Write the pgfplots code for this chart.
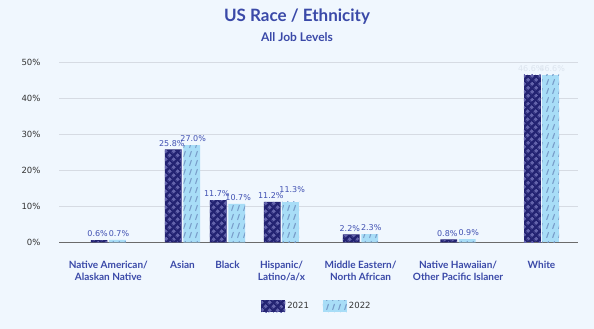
\documentclass[border=0pt]{standalone}
\usepackage{pgfplots}
\pgfplotsset{compat=1.18}
\usetikzlibrary{patterns.meta}
\usepackage{fontspec}
\setmainfont{Lato}
\newfontfamily\dejavu{DejaVu Sans}
\definecolor{bg}{HTML}{F0F7FE}
\definecolor{titleblue}{HTML}{3A49A8}
\definecolor{labelblue}{HTML}{4050B2}
\definecolor{navy}{HTML}{232372}
\definecolor{navypat}{HTML}{6464AC}
\definecolor{sky}{HTML}{A8DDF7}
\definecolor{skypat}{HTML}{7A9FCB}
\definecolor{gridc}{HTML}{D6DBE3}
\definecolor{axisgray}{HTML}{6B6B6B}
\definecolor{tickc}{HTML}{333333}
\definecolor{faint}{HTML}{DCE4EE}
\tikzdeclarepattern{
  name=mydiamonds,
  type=uncolored,
  bounding box={(0pt,0pt) and (5.3pt,5.3pt)},
  tile size={(5.3pt,5.3pt)},
  tile transformation={rotate=45},
  code={\fill (1pt,1pt) rectangle (4.3pt,4.3pt);}
}
\tikzdeclarepattern{
  name=mydashes,
  type=uncolored,
  bounding box={(0pt,0pt) and (5.5pt,9pt)},
  tile size={(5.5pt,9pt)},
  code={\draw[line width=1.2pt, line cap=round] (1.8pt,1.6pt) -- (3.6pt,7.2pt);}
}
\pgfplotsset{
  mylegend/.style={legend image code/.code={\path[##1, draw=none] (0pt,-6pt) rectangle (24pt,6pt);}},
  s2021/.style={fill=navy, draw=none, bar shift=-9.2, postaction={pattern=mydiamonds, pattern color=navypat},
    every node near coord/.append style={xshift=-1.5pt}},
  s2022/.style={fill=sky, draw=none, bar shift=9.2, postaction={pattern=mydashes, pattern color=skypat},
    every node near coord/.append style={xshift=1.5pt}},
}
\begin{document}
\begin{tikzpicture}
\fill[bg] (0pt,0pt) rectangle (594pt,329pt);
\node[font=\bfseries\fontsize{17}{20}\selectfont, text=titleblue] at (297pt,312pt) {US Race / Ethnicity};
\node[font=\bfseries\fontsize{12}{14}\selectfont, text=titleblue] at (297pt,291.5pt) {All Job Levels};
\begin{axis}[
  at={(59pt,86.7pt)}, anchor=south west,
  scale only axis, width=519pt, height=180pt,
  xmin=59, xmax=578, ymin=0, ymax=50,
  clip=false,
  ybar, bar width=16.7,
  axis line style={draw=none},
  major tick length=0pt,
  ytick={10,20,30,40,50},
  yticklabels={10\%,20\%,30\%,40\%,50\%},
  extra y ticks={0}, extra y tick labels={0\%},
  extra y tick style={major grid style={draw=axisgray, line width=0.9pt}},
  ymajorgrids, major grid style={draw=gridc, line width=0.6pt},
  yticklabel style={font=\dejavu\fontsize{8.5}{10}\selectfont, text=tickc, xshift=-15pt},
  xtick={108.3,182.5,227.5,281.5,360.5,458,541.5},
  xticklabels={{Native American/\\Alaskan Native},Asian,Black,{Hispanic/\\Latino/a/x},{Middle Eastern/\\North African},{Native Hawaiian/\\Other Pacific Islaner},White},
  xticklabel style={font=\bfseries\fontsize{10}{12}\selectfont, text=titleblue, align=center, yshift=-15pt},
  nodes near coords={\pgfmathprintnumber[fixed, fixed zerofill, precision=1, assume math mode=true]{\pgfplotspointmeta}\%},
  every node near coord/.append style={font=\dejavu\fontsize{8}{9}\selectfont, text=labelblue, inner sep=1.5pt, yshift=1.5pt},
  legend style={at={(0.497,-0.354)}, anchor=center, draw=none, fill=none,
    legend columns=2, font=\dejavu\fontsize{8.5}{10}\selectfont, text=tickc,
    /tikz/every even column/.append style={column sep=12pt}},
]
\addplot[s2021, mylegend] coordinates {(108.3,0.6) (182.5,25.8) (227.5,11.7) (281.5,11.2) (360.5,2.2) (458,0.8)};
\addplot[s2022, mylegend] coordinates {(108.3,0.7) (182.5,27.0) (227.5,10.7) (360.5,2.3) (458,0.9)};
\addplot[s2022, forget plot, every node near coord/.append style={yshift=6pt}] coordinates {(281.5,11.3)};
\addplot[s2021, forget plot, every node near coord/.append style={text=faint}] coordinates {(541.5,46.6)};
\addplot[s2022, forget plot, every node near coord/.append style={text=faint}] coordinates {(541.5,46.6)};
\legend{2021,2022}
\end{axis}
\pgfresetboundingbox
\path[use as bounding box] (0pt,0pt) rectangle (594pt,329pt);
\end{tikzpicture}
\end{document}
